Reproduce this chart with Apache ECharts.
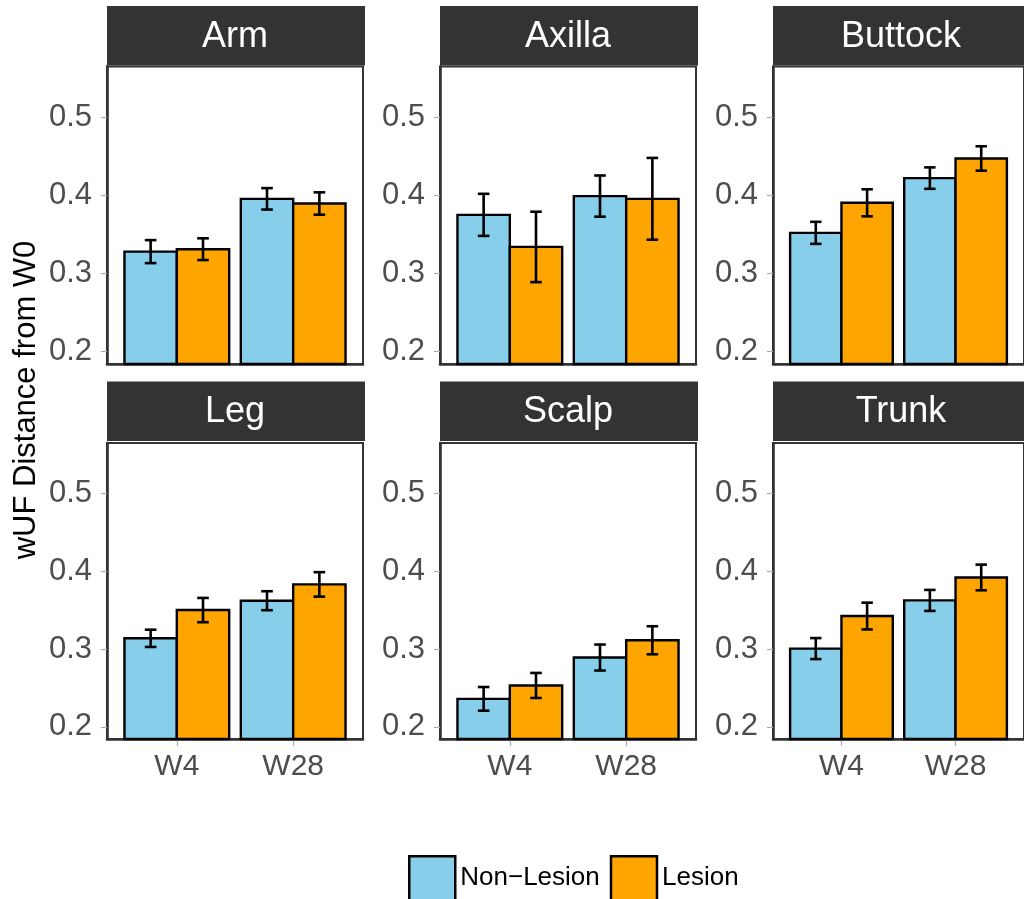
<!DOCTYPE html>
<html>
<head>
<meta charset="utf-8">
<script src="https://cdn.jsdelivr.net/npm/echarts@6/dist/echarts.min.js"></script>
<style>
html,body{margin:0;padding:0;background:#fff;}
#chart{width:1024px;height:899px;}
</style>
</head>
<body>
<div id="chart"></div>
<script>
// ---- data ----
const facets = ['Arm', 'Axilla', 'Buttock', 'Leg', 'Scalp', 'Trunk'];
const timepoints = ['W4', 'W28'];
const groups = ['Non\u2212Lesion', 'Lesion'];
// mean per facet: [W4, W28]
const nonLesionMean = [[0.328, 0.3955], [0.375, 0.399], [0.352, 0.422], [0.3137, 0.362], [0.2359, 0.289], [0.3005, 0.3624]];
const nonLesionSE   = [[0.0147, 0.0137], [0.0269, 0.0263], [0.0141, 0.0137], [0.0111, 0.0122], [0.0152, 0.0167], [0.0135, 0.0135]];
const lesionMean    = [[0.3311, 0.3895], [0.334, 0.3955], [0.3904, 0.4471], [0.35, 0.383], [0.2531, 0.3112], [0.3423, 0.3919]];
const lesionSE      = [[0.0139, 0.0143], [0.045, 0.0523], [0.0173, 0.0156], [0.0156, 0.0157], [0.0161, 0.018], [0.0172, 0.0165]];
const yTicks = [0.2, 0.3, 0.4, 0.5];
const yTitle = 'wUF Distance from W0';

// ---- style / layout ----
const FONT = '"Liberation Sans", Arial, Helvetica, sans-serif';
const colors = ['#87CEEB', '#FFA500'];
const colLeft = [107, 440, 773];
const panelW = 256;
const gridTop = [66.5, 443];
const gridH = [297.5, 296];
const stripTop = [6, 381.5];
const stripH = 59.5;
const Y_MIN = 0.1843, Y_MAX = 0.5647;
const BAR_HALF = 0.225, CAP_HALF = 0.05;

const grids = [], xAxes = [], yAxes = [], series = [], graphics = [];

function makeRender(color, offset) {
  return function (params, api) {
    const xi = api.value(0) + offset;
    const m = api.value(1);
    const se = api.value(2);
    const cs = params.coordSys;
    const bottom = cs.y + cs.height;
    const l = api.coord([xi - BAR_HALF, m]);
    const r = api.coord([xi + BAR_HALF, m]);
    const c = api.coord([xi, m]);
    const hi = api.coord([xi, m + se]);
    const lo = api.coord([xi, m - se]);
    const cl = api.coord([xi - CAP_HALF, m])[0];
    const cr = api.coord([xi + CAP_HALF, m])[0];
    const es = { stroke: '#000', lineWidth: 2.6 };
    return {
      type: 'group',
      children: [
        { type: 'rect', shape: { x: l[0], y: l[1], width: r[0] - l[0], height: bottom - l[1] },
          style: { fill: color, stroke: '#000', lineWidth: 2.4 } },
        { type: 'line', shape: { x1: c[0], y1: hi[1], x2: c[0], y2: lo[1] }, style: es },
        { type: 'line', shape: { x1: cl, y1: hi[1], x2: cr, y2: hi[1] }, style: es },
        { type: 'line', shape: { x1: cl, y1: lo[1], x2: cr, y2: lo[1] }, style: es }
      ]
    };
  };
}

facets.forEach(function (name, i) {
  const col = i % 3, row = Math.floor(i / 3);
  grids.push({
    left: colLeft[col], top: gridTop[row], width: panelW, height: gridH[row],
    show: true, borderColor: '#333', borderWidth: 2, backgroundColor: '#fff'
  });
  xAxes.push({
    gridIndex: i, type: 'value', min: 0.4, max: 2.6,
    splitLine: { show: false },
    axisLine: { show: true, onZero: false, lineStyle: { color: '#333', width: 2.6 } },
    axisTick: { show: row === 1, customValues: [1, 2], length: 7, lineStyle: { color: '#aaaaaa', width: 1.2 } },
    axisLabel: {
      show: row === 1, customValues: [1, 2], margin: 13,
      formatter: function (v) { return timepoints[Math.round(v) - 1]; },
      color: '#4d4d4d', fontSize: 30, fontFamily: FONT
    }
  });
  yAxes.push({
    gridIndex: i, type: 'value', min: Y_MIN, max: Y_MAX,
    splitLine: { show: false },
    axisLine: { show: true, lineStyle: { color: '#333', width: 2.6 } },
    axisTick: { show: true, customValues: yTicks, length: 6, lineStyle: { color: '#aaaaaa', width: 1.2 } },
    axisLabel: {
      customValues: yTicks, margin: 15,
      formatter: function (v) { return v.toFixed(1); },
      color: '#4d4d4d', fontSize: 31, fontFamily: FONT
    }
  });
  const nl = timepoints.map(function (t, k) { return [k + 1, nonLesionMean[i][k], nonLesionSE[i][k]]; });
  const le = timepoints.map(function (t, k) { return [k + 1, lesionMean[i][k], lesionSE[i][k]]; });
  series.push({
    type: 'custom', name: groups[0], xAxisIndex: i, yAxisIndex: i,
    itemStyle: { color: colors[0] }, renderItem: makeRender(colors[0], -BAR_HALF),
    encode: { x: 0, y: 1 }, data: nl, silent: true
  });
  series.push({
    type: 'custom', name: groups[1], xAxisIndex: i, yAxisIndex: i,
    itemStyle: { color: colors[1] }, renderItem: makeRender(colors[1], BAR_HALF),
    encode: { x: 0, y: 1 }, data: le, silent: true
  });
  // facet strip
  graphics.push({
    type: 'rect', left: colLeft[col], top: stripTop[row],
    shape: { width: panelW + 2, height: stripH }, style: { fill: '#333333' }, silent: true
  });
  graphics.push({
    type: 'text', x: colLeft[col] + panelW / 2, y: stripTop[row] + stripH / 2 + 1,
    style: { text: name, fill: '#ffffff', font: '36px ' + FONT, align: 'center', verticalAlign: 'middle' },
    silent: true
  });
});

graphics.push({
  type: 'text', x: 26, y: 400, rotation: Math.PI / 2,
  style: { text: yTitle, fill: '#000', font: '31px ' + FONT, align: 'center', verticalAlign: 'middle' },
  silent: true
});

const chart = echarts.init(document.getElementById('chart'), null, { renderer: 'canvas' });
chart.setOption({
  animation: false,
  backgroundColor: '#ffffff',
  grid: grids,
  xAxis: xAxes,
  yAxis: yAxes,
  series: series,
  graphic: graphics,
  legend: {
    left: 403, top: 850, orient: 'horizontal',
    itemWidth: 46, itemHeight: 44, itemGap: 10, icon: 'rect',
    selectedMode: false,
    textStyle: { color: '#000', fontSize: 26, fontFamily: FONT },
    data: [
      { name: groups[0], itemStyle: { color: colors[0], borderColor: '#000', borderWidth: 2.5 } },
      { name: groups[1], itemStyle: { color: colors[1], borderColor: '#000', borderWidth: 2.5 } }
    ]
  }
});
</script>
</body>
</html>
